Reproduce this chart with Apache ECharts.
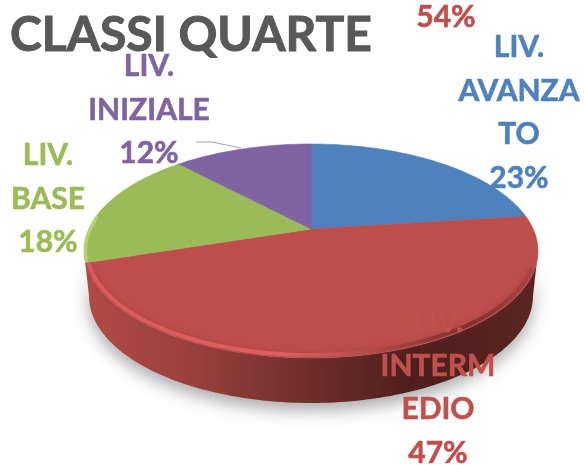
<!DOCTYPE html>
<html>
<head>
<meta charset="utf-8">
<style>
  html,body{margin:0;padding:0;background:#fff;}
  #chart{width:584px;height:465px;}
</style>
<script src="https://cdn.jsdelivr.net/npm/echarts@6/dist/echarts.min.js"></script>
</head>
<body>
<div id="chart"></div>
<script>
  var titleText = 'CLASSI QUARTE';
  var values = [23, 47, 18, 12];
  var labelLines = [['LIV.', 'AVANZA', 'TO'], ['LIV.', 'INTERM', 'EDIO'], ['LIV.', 'BASE'], ['LIV.', 'INIZIALE']];
  var strayLabel = '54%';
  var colors = ['#4f81bd', '#bd4e4b', '#9bbb59', '#8064a2'];
  var labelColors = ['#4f81bd', '#c0504d', '#9bbb59', '#8064a2'];

  // where each label block is centred
  var labelAt = [[519, 113], [438, 388], [48, 199], [149, 110]];

  // the disc seen in perspective: ellipse on screen, centre of the pie projected above it
  var cx = 311, cy = 251, rx = 227, ry = 107, depth = 45;
  var persp = 22 / ry;
  var total = values.reduce(function (a, b) { return a + b; }, 0);

  // share = fraction of the full turn, clockwise from the top
  function rimPoint(share) {
    var t = share * 2 * Math.PI;
    var u = Math.sin(t), v = Math.cos(t);
    var d = persp * v + 1;
    return [
      cx + rx * Math.sqrt(1 - persp * persp) * u / d,
      cy + (-ry * v - ry * persp) / d
    ];
  }
  function rimArc(from, to) {
    var pts = [];
    var n = Math.max(2, Math.ceil(Math.abs(to - from) * 240));
    for (var i = 0; i <= n; i++) {
      pts.push(rimPoint(from + (to - from) * i / n));
    }
    return pts;
  }
  // pull a rim point a little towards the middle of the disc
  function inset(p) {
    return [cx + (p[0] - cx) * 0.985, cy + (p[1] - cy) * 0.972];
  }

  function renderWall() {
    var pts = [], i, a;
    for (i = 0; i <= 120; i++) {
      a = Math.PI * i / 120;
      pts.push([cx + rx * Math.cos(a), cy + ry * Math.sin(a)]);
    }
    for (i = 120; i >= 0; i--) {
      a = Math.PI * i / 120;
      pts.push([cx + (rx - 5) * Math.cos(a), cy + depth + ry * Math.sin(a)]);
    }
    return {
      type: 'polygon',
      shape: {points: pts},
      style: {
        fill: new echarts.graphic.LinearGradient(0, 0, 1, 0, [
          {offset: 0, color: '#b34a47'},
          {offset: 0.25, color: '#98403d'},
          {offset: 0.5, color: '#6e2d2b'},
          {offset: 0.72, color: '#4e1f1d'},
          {offset: 1, color: '#5a2422'}
        ]),
        shadowColor: 'rgba(0,0,0,0.32)',
        shadowBlur: 16,
        shadowOffsetY: 8
      }
    };
  }

  function renderSlice(params, api) {
    var i = params.dataIndex;
    var start = 0;
    for (var k = 0; k < i; k++) start += values[k];
    var from = start / total;
    var to = (start + api.value(0)) / total;
    var children = [{
      type: 'polygon',
      shape: {points: [[cx, cy - ry * persp]].concat(rimArc(from, to))},
      style: {fill: colors[i], stroke: colors[i], lineWidth: 0.6}
    }];
    if (i === 1) {
      // lit bevel along the front edge of the red slice, gone dark by the right side
      children.push({
        type: 'polyline',
        shape: {points: rimArc(to - 0.004, 0.31).map(inset)},
        style: {
          fill: null,
          lineWidth: 4,
          lineCap: 'round',
          stroke: new echarts.graphic.LinearGradient(0, 0, 1, 0, [
            {offset: 0, color: '#dd5a5b'},
            {offset: 0.44, color: '#dc6160'},
            {offset: 0.6, color: '#bd4e4b'},
            {offset: 0.85, color: '#7c302e'},
            {offset: 1, color: '#a84543'}
          ]),
          shadowColor: 'rgba(140,50,50,0.45)',
          shadowBlur: 6
        }
      });
    }
    if (i === 2) {
      children.push({
        type: 'polyline',
        shape: {points: rimArc(from + 0.002, from + 0.07).map(function (p) {
          return [p[0] + 1.5, p[1]];
        })},
        style: {fill: null, lineWidth: 3, stroke: '#b4d46e'}
      });
    }
    return {type: 'group', children: children};
  }

  function renderLabel(params, api) {
    var i = params.dataIndex;
    var lines = labelLines[i].concat(api.value(0) + '%');
    return {
      type: 'text',
      style: {
        text: lines.join('\n'),
        x: labelAt[i][0],
        y: labelAt[i][1],
        align: 'center',
        verticalAlign: 'middle',
        lineHeight: 43.5,
        fill: labelColors[i],
        stroke: labelColors[i],
        lineWidth: 0.6,
        font: 'bold 30px Lato'
      }
    };
  }

  var chart = echarts.init(document.getElementById('chart'));
  chart.setOption({
    animation: false,
    title: {
      text: titleText,
      left: 5,
      top: 7,
      textStyle: {
        color: '#595959',
        fontFamily: 'Lato',
        fontWeight: 'bold',
        fontSize: 48,
        textBorderColor: '#595959',
        textBorderWidth: 1
      }
    },
    graphic: [
      {
        type: 'polyline',
        shape: {points: [[196, 142], [212, 142], [241, 148]]},
        style: {fill: null, stroke: '#a6a6a6', lineWidth: 1.2}
      },
      {
        type: 'text',
        style: {
          text: strayLabel,
          x: 446,
          y: 17,
          align: 'center',
          verticalAlign: 'middle',
          fill: '#c0504d',
          stroke: '#c0504d',
          lineWidth: 0.6,
          font: 'bold 30px Lato'
        }
      }
    ],
    series: [
      {type: 'custom', coordinateSystem: 'none', silent: true, z: 1, data: [values[1]], renderItem: renderWall},
      {type: 'custom', coordinateSystem: 'none', silent: true, z: 2, data: values.map(function (v) { return [v]; }), renderItem: renderSlice},
      {type: 'custom', coordinateSystem: 'none', silent: true, z: 3, data: values.map(function (v) { return [v]; }), renderItem: renderLabel}
    ]
  });
</script>
</body>
</html>
